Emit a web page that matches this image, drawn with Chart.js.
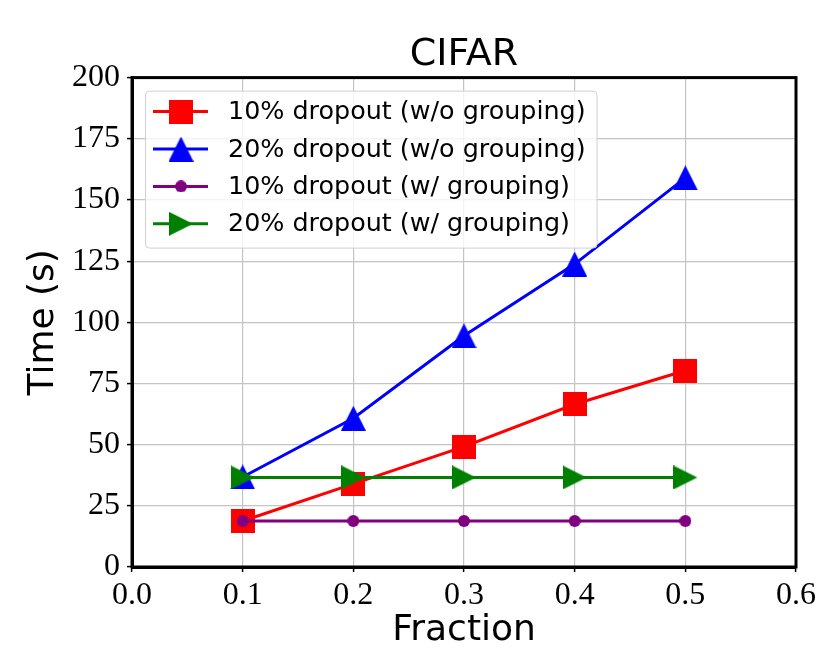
<!DOCTYPE html>
<html>
<head>
<meta charset="utf-8">
<script src="https://cdn.jsdelivr.net/npm/chart.js@4.4.0/dist/chart.umd.min.js"></script>
<style>
  html, body { margin: 0; padding: 0; background: #fff; }
  #wrap { width: 830px; height: 652px; }
</style>
</head>
<body>
<div id="wrap"><canvas id="chart" width="830" height="652"></canvas></div>
<script>
// DATA
const fractions = [0.1, 0.2, 0.3, 0.4, 0.5];
const drop10NoGroup = [18.8, 34.0, 49.2, 66.5, 80.3];
const drop20NoGroup = [36.8, 60.8, 94.5, 123.8, 159.0];
const drop10Group = [18.8, 18.8, 18.8, 18.8, 18.8];
const drop20Group = [36.6, 36.6, 36.6, 36.6, 36.6];
const seriesLabels = [
  "10% dropout (w/o grouping)",
  "20% dropout (w/o grouping)",
  "10% dropout (w/ grouping)",
  "20% dropout (w/ grouping)"
];

const SANS = "'DejaVu Sans', sans-serif";
const SERIF = "'Liberation Serif', 'Times New Roman', serif";

// MARKER IMAGES (centred on their bounding box like matplotlib)
function makeMarker(shape, color, size) {
  const c = document.createElement("canvas");
  c.width = size;
  c.height = size;
  const g = c.getContext("2d");
  g.fillStyle = color;
  g.beginPath();
  if (shape === "square") {
    g.rect(0, 0, size, size);
  } else if (shape === "up") {
    g.moveTo(size / 2, 0);
    g.lineTo(size, size);
    g.lineTo(0, size);
  } else if (shape === "right") {
    g.moveTo(size, size / 2);
    g.lineTo(0, 0);
    g.lineTo(0, size);
  } else {
    g.arc(size / 2, size / 2, size / 2, 0, Math.PI * 2);
  }
  g.closePath();
  g.fill();
  return c;
}

function points(ys) {
  return fractions.map((x, i) => ({ x: x, y: ys[i] }));
}

function series(label, ys, color, marker, order) {
  return {
    label: label,
    data: points(ys),
    borderColor: color,
    backgroundColor: color,
    borderWidth: 3,
    pointStyle: marker,
    pointRadius: 12,
    pointHoverRadius: 12,
    tension: 0,
    order: order
  };
}

// LEGEND DRAWN INSIDE THE PLOT AREA
const insideLegend = {
  id: "insideLegend",
  afterDraw(chart) {
    const ctx = chart.ctx;
    const area = chart.chartArea;
    const x0 = area.left + 13, y0 = area.top + 13;
    ctx.save();
    ctx.font = "25.4px " + SANS;
    const textW = Math.max(...chart.data.datasets.map(d => ctx.measureText(d.label).width));
    const w = 83 + textW + 11, h = 157;
    ctx.beginPath();
    ctx.roundRect(x0 + 0.5, y0 + 0.5, w, h, 4);
    ctx.fillStyle = "rgba(255,255,255,0.8)";
    ctx.fill();
    ctx.strokeStyle = "#d0d0d0";
    ctx.lineWidth = 1;
    ctx.stroke();
    chart.data.datasets.forEach((ds, i) => {
      const cy = y0 + 21 + i * 37.4;
      ctx.strokeStyle = ds.borderColor;
      ctx.lineWidth = 3;
      ctx.beginPath();
      ctx.moveTo(x0 + 8, cy);
      ctx.lineTo(x0 + 63, cy);
      ctx.stroke();
      const m = ds.pointStyle;
      ctx.drawImage(m, x0 + 36 - m.width / 2, cy - m.height / 2);
      ctx.fillStyle = "#000";
      ctx.textBaseline = "middle";
      ctx.textAlign = "left";
      ctx.fillText(ds.label, x0 + 83, cy + 1);
    });
    ctx.restore();
  }
};

// BLACK FRAME AROUND THE AXES
const frame = {
  id: "frame",
  afterDatasetsDraw(chart) {
    const ctx = chart.ctx;
    const a = chart.chartArea;
    ctx.save();
    ctx.strokeStyle = "#000";
    ctx.lineWidth = 3;
    ctx.strokeRect(a.left, a.top, a.right - a.left, a.bottom - a.top);
    ctx.restore();
  }
};

const gridOpts = {
  color: "#c4c4c4",
  lineWidth: 1.2,
  tickColor: "#000",
  tickWidth: 1.5,
  tickLength: 5
};

new Chart(document.getElementById("chart"), {
  type: "line",
  data: {
    datasets: [
      series(seriesLabels[0], drop10NoGroup, "#ff0000", makeMarker("square", "#ff0000", 24), 3),
      series(seriesLabels[1], drop20NoGroup, "#0000ff", makeMarker("up", "#0000ff", 25), 2),
      series(seriesLabels[2], drop10Group, "#800080", makeMarker("circle", "#800080", 12), 1),
      series(seriesLabels[3], drop20Group, "#008000", makeMarker("right", "#008000", 24), 0)
    ]
  },
  options: {
    responsive: false,
    animation: false,
    devicePixelRatio: 1,
    events: [],
    clip: false,
    layout: { padding: { top: 0, left: 0, right: 34, bottom: 0 } },
    plugins: {
      legend: { display: false },
      tooltip: { enabled: false },
      title: {
        display: true,
        text: "CIFAR",
        fullSize: false,
        color: "#000",
        font: { family: SANS, size: 38, weight: "normal", lineHeight: 1.2 },
        padding: { top: 32, bottom: 0 }
      }
    },
    scales: {
      x: {
        type: "linear",
        min: 0,
        max: 0.6,
        afterFit(scale) { scale.height = 85; },
        ticks: {
          stepSize: 0.1,
          color: "#000",
          padding: 4,
          font: { family: SERIF, size: 32 },
          callback: v => v.toFixed(1)
        },
        grid: gridOpts,
        border: { display: true, color: "#000", width: 3 },
        title: {
          display: true,
          text: "Fraction",
          color: "#000",
          font: { family: SANS, size: 36, lineHeight: 1.2 },
          padding: { top: 0, bottom: 0 }
        }
      },
      y: {
        min: 0,
        max: 200,
        afterFit(scale) { scale.width = 132; },
        ticks: {
          stepSize: 25,
          color: "#000",
          padding: 7,
          font: { family: SERIF, size: 32 }
        },
        grid: gridOpts,
        border: { display: true, color: "#000", width: 3 },
        title: {
          display: true,
          text: "Time (s)",
          color: "#000",
          font: { family: SANS, size: 36, lineHeight: 1.2 },
          padding: { top: 22, bottom: 0 }
        }
      }
    }
  },
  plugins: [frame, insideLegend]
});
</script>
</body>
</html>
